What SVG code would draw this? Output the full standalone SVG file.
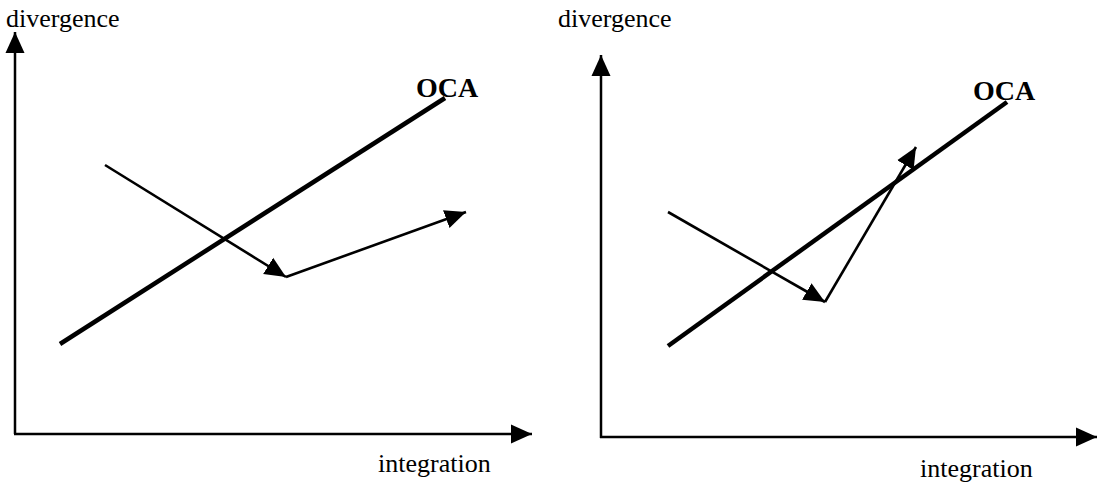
<svg xmlns="http://www.w3.org/2000/svg" width="1103" height="485" viewBox="0 0 1103 485">
<style>
.axis{stroke:#000;stroke-width:2.5;fill:none}
.thin{stroke:#000;stroke-width:2.6;fill:none}
.oca{stroke:#000;stroke-width:4.5;fill:none;stroke-linecap:butt}
.lbl{font-family:"Liberation Serif","Times New Roman",serif;font-size:26px;fill:#000}
.bold{font-family:"Liberation Serif","Times New Roman",serif;font-size:28px;font-weight:bold;fill:#000}
</style>
<defs>
<marker id="ah" markerUnits="userSpaceOnUse" markerWidth="22" markerHeight="22" viewBox="0 0 22 22" refX="21" refY="11" orient="auto">
<path d="M0,1.5 L21,11 L0,20.5 Z" fill="#000"/>
</marker>
</defs>
<rect width="1103" height="485" fill="#fff"/>
<g id="left-panel">
<g id="left-axes">
<path class="axis" d="M15,434 L15,32" marker-end="url(#ah)"/>
<path class="axis" d="M14,434 L532,434" marker-end="url(#ah)"/>
</g>
<text id="left-divergence" class="lbl" x="6" y="27">divergence</text>
<text id="left-integration" class="lbl" x="378" y="472">integration</text>
<g id="left-oca">
<line class="oca" x1="60" y1="344" x2="445" y2="98"/>
<text class="bold" x="416" y="97">OCA</text>
</g>
<g id="left-connectors">
<path class="thin" d="M105,165 L286,277" marker-end="url(#ah)"/>
<path class="thin" d="M286,277 L466,212" marker-end="url(#ah)"/>
</g>
</g>
<g id="right-panel">
<g id="right-axes">
<path class="axis" d="M601,438 L601,55" marker-end="url(#ah)"/>
<path class="axis" d="M600,437 L1097,437" marker-end="url(#ah)"/>
</g>
<text id="right-divergence" class="lbl" x="558" y="27">divergence</text>
<text id="right-integration" class="lbl" x="920" y="477">integration</text>
<g id="right-oca">
<line class="oca" x1="668" y1="346" x2="1007" y2="102"/>
<text class="bold" x="973" y="100">OCA</text>
</g>
<g id="right-connectors">
<path class="thin" d="M668,212 L825,302" marker-end="url(#ah)"/>
<path class="thin" d="M825,302 L916,147" marker-end="url(#ah)"/>
</g>
</g>
</svg>
